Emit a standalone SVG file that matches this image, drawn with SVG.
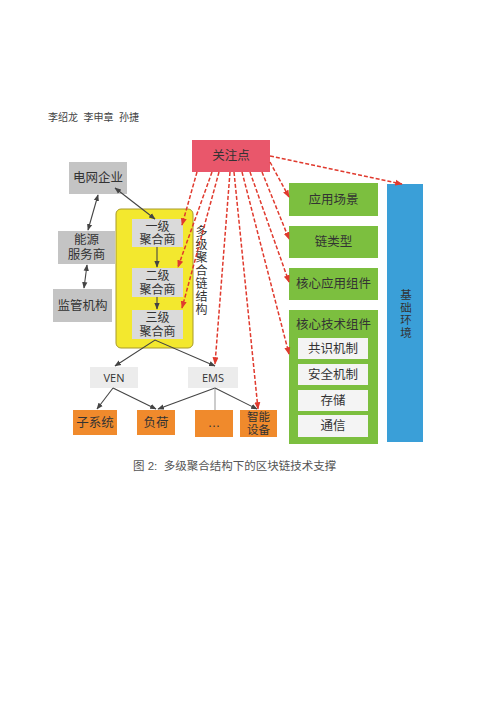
<svg xmlns="http://www.w3.org/2000/svg" width="500" height="707" viewBox="0 0 500 707">
<style>
text{font-family:"Liberation Sans","Noto Sans CJK SC",sans-serif;fill:#333;text-anchor:middle;dominant-baseline:central;white-space:pre}
.t{font-size:12.5px}
.m{font-size:12px}
.s{font-size:11.5px}
.v{writing-mode:vertical-rl;text-anchor:start;letter-spacing:1px}
.gray{fill:#c4c4c4}
.lg{fill:#dadada}
.green{fill:#7cbf3f}
.white{fill:#f4f4f4}
.orange{fill:#f08a2c}
.blk{stroke:#444;stroke-width:1.1;fill:none}
.red{stroke:#e03a2e;stroke-width:1.5;stroke-dasharray:4 2;fill:none}
</style>
<defs>
<marker id="ab" viewBox="0 0 10 10" refX="9" refY="5" markerWidth="6" markerHeight="6" orient="auto-start-reverse"><path d="M0,1 L10,5 L0,9 z" fill="#444"/></marker>
<marker id="ar" viewBox="0 0 10 10" refX="9" refY="5" markerWidth="5" markerHeight="5" orient="auto"><path d="M0,1 L10,5 L0,9 z" fill="#e03a2e"/></marker>
</defs>
<rect width="500" height="707" fill="#fff"/>
<text x="48" y="117" xml:space="preserve" style="font-size:10px;text-anchor:start;fill:#444">李绍龙  李申章  孙捷</text>

<g id="n-guanzhu"><rect x="192" y="140" width="78" height="32" fill="#e9576b"/><text class="t" x="231" y="156">关注点</text></g>
<g id="n-dianwang"><rect class="gray" x="69" y="162" width="58" height="32"/><text class="t" x="98" y="178">电网企业</text></g>
<g id="n-nengyuan"><rect class="gray" x="58" y="231" width="57" height="33"/><text class="t" x="86.5" y="240">能源<tspan x="86.5" dy="15">服务商</tspan></text></g>
<g id="n-jianguan"><rect class="gray" x="53" y="289" width="59" height="33"/><text class="t" x="82.5" y="305.5">监管机构</text></g>
<g id="n-yellow"><rect x="116" y="209" width="77" height="139" rx="5" fill="#f3e82e" stroke="#a89a2a" stroke-width="1"/></g>
<g id="n-l1"><rect class="lg" x="132" y="219" width="51" height="28"/><text class="m" x="157.5" y="226.5">一级<tspan x="157.5" dy="13.6">聚合商</tspan></text></g>
<g id="n-l2"><rect class="lg" x="132" y="268" width="51" height="29"/><text class="m" x="157.5" y="276">二级<tspan x="157.5" dy="13.6">聚合商</tspan></text></g>
<g id="n-l3"><rect class="lg" x="132" y="310" width="51" height="29"/><text class="m" x="157.5" y="318">三级<tspan x="157.5" dy="13.6">聚合商</tspan></text></g>
<g id="n-label"><text class="m v" x="200" y="225">多级聚合链结构</text></g>
<g id="n-yingyong"><rect class="green" x="289" y="183" width="89" height="33"/><text class="t" x="333.5" y="199.5">应用场景</text></g>
<g id="n-lianleixing"><rect class="green" x="289" y="226" width="89" height="32"/><text class="t" x="333.5" y="242">链类型</text></g>
<g id="n-hexinyy"><rect class="green" x="289" y="268" width="89" height="32"/><text class="t" x="333.5" y="284">核心应用组件</text></g>
<g id="n-hexinjs"><rect class="green" x="289" y="310" width="89" height="134"/><text class="t" x="333.5" y="325">核心技术组件</text></g>
<g id="n-gongshi"><rect class="white" x="298" y="338" width="70" height="21"/><text class="t" x="333" y="348.5">共识机制</text></g>
<g id="n-anquan"><rect class="white" x="298" y="364" width="70" height="21"/><text class="t" x="333" y="374.5">安全机制</text></g>
<g id="n-cunchu"><rect class="white" x="298" y="390" width="70" height="21"/><text class="t" x="333" y="400.5">存储</text></g>
<g id="n-tongxin"><rect class="white" x="298" y="415" width="70" height="22"/><text class="t" x="333" y="426">通信</text></g>
<g id="n-jichu"><rect x="387" y="184" width="36" height="258" fill="#3a9fd8"/><text class="s v" x="405" y="289">基础环境</text></g>
<g id="n-ven"><rect x="90" y="367" width="48" height="21" fill="#ececec"/><text x="114" y="377.5" style="font-size:11px;font-family:'Open Sans','DejaVu Sans',sans-serif">VEN</text></g>
<g id="n-ems"><rect x="188" y="367" width="50" height="21" fill="#ececec"/><text x="213" y="377.5" style="font-size:11px;font-family:'Open Sans','DejaVu Sans',sans-serif">EMS</text></g>
<g id="n-zixitong"><rect class="orange" x="73" y="410" width="44" height="25"/><text class="t" x="95" y="422.5">子系统</text></g>
<g id="n-fuhe"><rect class="orange" x="137" y="410" width="38" height="25"/><text class="t" x="156" y="422.5">负荷</text></g>
<g id="n-dots"><rect class="orange" x="195" y="410" width="38" height="27"/><text class="t" x="214" y="423">…</text></g>
<g id="n-zhineng"><rect class="orange" x="240" y="410" width="37" height="27"/><text class="s" x="258.5" y="417">智能<tspan x="258.5" dy="13">设备</tspan></text></g>

<g id="connectors">
<line class="blk" x1="115" y1="188" x2="155" y2="219" marker-start="url(#ab)" marker-end="url(#ab)"/>
<line class="blk" x1="98" y1="195" x2="88" y2="230" marker-start="url(#ab)" marker-end="url(#ab)"/>
<line class="blk" x1="87" y1="265" x2="84" y2="288" marker-start="url(#ab)" marker-end="url(#ab)"/>
<line class="blk" x1="157" y1="247" x2="157" y2="267" marker-end="url(#ab)"/>
<line class="blk" x1="157" y1="297" x2="157" y2="309" marker-end="url(#ab)"/>
<polyline class="blk" points="115,366 155,340 215,366" marker-start="url(#ab)" marker-end="url(#ab)"/>
<line class="blk" x1="113" y1="388" x2="97" y2="409" marker-end="url(#ab)"/>
<line class="blk" x1="113" y1="388" x2="156" y2="409" marker-end="url(#ab)"/>
<line class="blk" x1="215" y1="388" x2="158" y2="409" marker-end="url(#ab)"/>
<line x1="215" y1="388" x2="215" y2="410" stroke="#999" stroke-width="1"/>
<line class="blk" x1="215" y1="388" x2="257" y2="409" marker-end="url(#ab)"/>
<line class="red" x1="197" y1="172" x2="182" y2="225" marker-end="url(#ar)"/>
<line class="red" x1="212" y1="172" x2="178" y2="267" marker-end="url(#ar)"/>
<line class="red" x1="219" y1="172" x2="182" y2="308" marker-end="url(#ar)"/>
<line class="red" x1="230" y1="172" x2="215" y2="364" marker-end="url(#ar)"/>
<line class="red" x1="234" y1="172" x2="258" y2="409" marker-end="url(#ar)"/>
<line class="red" x1="242" y1="172" x2="289" y2="354" marker-end="url(#ar)"/>
<line class="red" x1="250" y1="172" x2="289" y2="282" marker-end="url(#ar)"/>
<line class="red" x1="262" y1="172" x2="289" y2="239" marker-end="url(#ar)"/>
<line class="red" x1="270" y1="162" x2="289" y2="197" marker-end="url(#ar)"/>
<line class="red" x1="270" y1="156" x2="402" y2="184" marker-end="url(#ar)"/>
</g>
<text x="133" y="466" xml:space="preserve" style="font-size:11.5px;text-anchor:start;fill:#555">图 2:  多级聚合结构下的区块链技术支撑</text>
</svg>
